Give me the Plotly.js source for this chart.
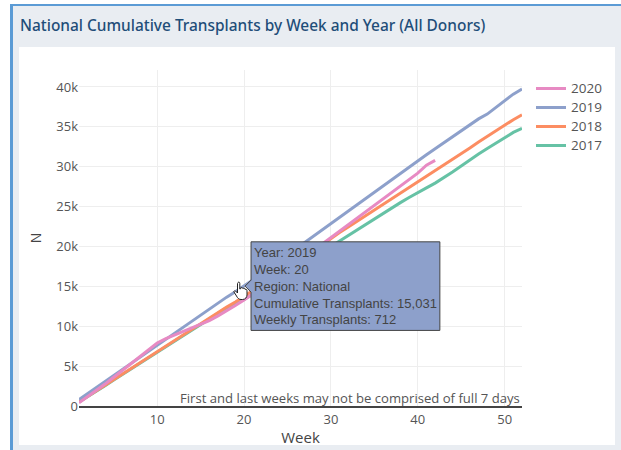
<!DOCTYPE html>
<html><head><meta charset="utf-8">
<script src="https://cdn.plot.ly/plotly-3.0.1.min.js"></script>
<style>
html,body{margin:0;padding:0;background:#fff;overflow:hidden}
#frame{position:absolute;left:10px;top:4px;width:611px;height:446px;box-sizing:border-box;background:#e9edf2;border-left:3px solid #5b9bd5;border-top:2px solid #5b9bd5}
#card{position:absolute;left:19px;top:47px;width:596px;height:398px;background:#fff}
#plot{position:absolute;left:0;top:0;width:621px;height:450px}
#hand{position:absolute;left:233px;top:281px;pointer-events:none}
</style></head><body>
<div id="frame"></div><div id="card"></div><div id="plot"></div>
<svg id="hand" width="16" height="20" viewBox="0 0 16 20"><path d="M5 1.5c.8-.8 1.8-.3 1.8.8V8l1-.4.4-1c.8-.4 1.4 0 1.5.8l1.2-.2c.6 0 1 .4 1 1l1.1.1c.7.2 1 .7 1 1.3V14c0 2-1.500 4.500-4.500 4.500H8C6 18.500 4.500 17 3.500 15L1 11c-.4-.8.6-1.600 1.500-1L4.500 12V2.500z" fill="#fff" stroke="#222" stroke-width="1"/></svg>
<script>
var weeks=[];for(var w=1;w<=52;w++)weeks.push(w);
var y2017=[500,1150,1850,2550,3250,3950,4650,5300,6050,6750,7450,8150,8850,9550,10250,10950,11600,12300,12900,13350,14000,14650,15300,15950,16600,17300,17950,18650,19300,20000,20700,21350,22050,22750,23450,24150,24800,25500,26150,26800,27350,27950,28600,29350,30100,30900,31600,32300,33000,33700,34300,34800];
var y2018=[500,1200,1950,2650,3350,4100,4800,5450,6150,6850,7550,8250,8950,9650,10300,11000,11700,12400,13050,13750,14450,15150,15850,16550,17250,17950,18700,19400,20200,21000,21750,22450,23150,23850,24550,25250,25950,26650,27400,28100,28800,29500,30200,30900,31600,32350,33100,33800,34550,35200,35900,36500];
var y2019=[800,1560,2320,3090,3850,4610,5380,6130,6880,7630,8400,9180,9950,10720,11480,12230,12990,13650,14319,15031,15800,16590,17380,18170,18950,19730,20520,21310,22100,22900,23680,24470,25240,26050,26830,27620,28420,29230,30000,30800,31500,32250,33000,33760,34500,35250,36000,36600,37400,38200,39100,39750];
var y2020=[400,1150,1950,2750,3600,4450,5350,6250,7100,7900,8450,8900,9350,9800,10200,10700,11300,11900,12600,13300,14050,14800,15600,16300,17100,17800,18600,19500,20300,21200,22000,22800,23600,24300,25100,25900,26700,27500,28400,29200,30200,30800];
var seriesNames=['2017','2018','2019','2020'];
var seriesValues=[y2017,y2018,y2019,y2020];
var seriesColors=['#66c2a5','#fc8d62','#8da0cb','#e78ac3'];
var yTickVals=[0,5000,10000,15000,20000,25000,30000,35000,40000];
var note='First and last weeks may not be comprised of full 7 days';
var chartTitle='National Cumulative Transplants by Week and Year (All Donors)';
var tf='"Open Sans",verdana,arial,sans-serif';
var hoverFont={family:'Liberation Sans',size:13,color:'#444'};
var traces=seriesValues.map(function(v,i){
  return {type:'scatter',mode:'lines',name:'<span style="font-size:13.5px">'+seriesNames[i]+'</span>',x:weeks.slice(0,v.length),y:v,
    customdata:v.map(function(c,k){return k?c-v[k-1]:c;}),
    line:{color:seriesColors[i],width:3,shape:'linear'},
    hovertemplate:'Year: '+seriesNames[i]+'<br>Week: %{x}<br>Region: National<br>Cumulative Transplants: %{y:,}<br>Weekly Transplants: %{customdata}<extra></extra>',
    hoverlabel:{bgcolor:seriesColors[i],bordercolor:'#444',font:hoverFont}};
});
var layout={width:621,height:450,margin:{l:79,r:99,t:70,b:44,pad:0},
  paper_bgcolor:'rgba(0,0,0,0)',plot_bgcolor:'rgba(0,0,0,0)',
  title:{text:chartTitle,x:20/621,xanchor:'left',y:1-26/450,yanchor:'middle',font:{family:'"Noto Sans",sans-serif',size:15.45,weight:500,color:'#1f4e79'}},
  hovermode:'closest',hoverlabel:{font:hoverFont},
  xaxis:{range:[1,52],dtick:10,tick0:0,showgrid:true,gridcolor:'#eee',zeroline:false,showline:true,linecolor:'#444',linewidth:2,
    tickfont:{family:tf,size:13,color:'#555'},title:{text:'Week',font:{family:tf,size:15,color:'#444'},standoff:6}},
  yaxis:{range:[0,42130],tickvals:yTickVals,ticktext:['0','5k','10k','15k','20k','25k','30k','35k','40k'],showgrid:true,gridcolor:'#eee',zeroline:false,
    tickfont:{family:tf,size:13,color:'#555'},title:{text:'N',font:{family:tf,size:14,color:'#444'},standoff:11}},
  legend:{traceorder:'reversed',x:(531-79)/443,xanchor:'left',y:(406-74)/336,yanchor:'top',font:{family:tf,size:12.3,color:'#555'},bgcolor:'rgba(0,0,0,0)',tracegroupgap:0},
  annotations:[{text:note,xref:'paper',yref:'paper',x:1,y:0,xanchor:'right',yanchor:'bottom',showarrow:false,xshift:0,yshift:-3,font:{family:tf,size:13.1,color:'#555'}}]
};
Plotly.newPlot('plot',traces,layout,{displayModeBar:false}).then(function(gd){
  Plotly.Fx.hover(gd,[{curveNumber:2,pointNumber:19}]);
  document.querySelectorAll('.hoverlayer text, .hoverlayer tspan').forEach(function(t){t.style.fontFamily='"Liberation Sans",Arial,sans-serif';});
});
</script></body></html>
